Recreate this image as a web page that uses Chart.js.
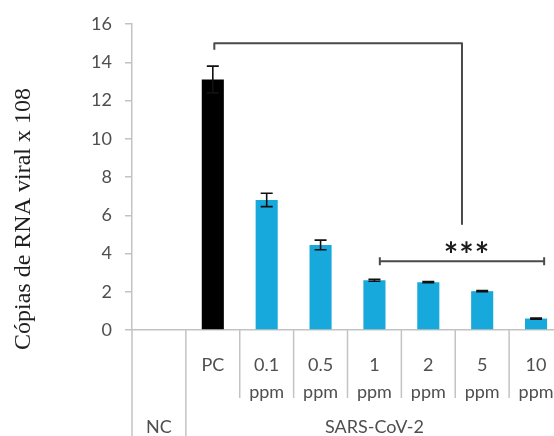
<!DOCTYPE html>
<html>
<head>
<meta charset="utf-8">
<script src="https://cdn.jsdelivr.net/npm/chart.js@4/dist/chart.umd.min.js"></script>
<style>
    html, body { margin: 0; padding: 0; background: #fff; overflow: hidden; }
    #wrap { width: 580px; height: 436px; }
</style>
</head>
<body>
<div id="wrap"><canvas id="rnaChart" width="580" height="436"></canvas></div>
<script>
// bar labels (first level) and the groups under them
const categories = ['', 'PC', ['0.1', 'ppm'], ['0.5', 'ppm'], ['1', 'ppm'], ['2', 'ppm'], ['5', 'ppm'], ['10', 'ppm']];
const groupLabels = ['NC', 'SARS-CoV-2'];
const groupStart = [0, 1];
const groupEnd = [0, 7];

// viral RNA copies (x 10^8) and standard errors
const copies = [null, 13.1, 6.8, 4.45, 2.6, 2.5, 2.03, 0.6];
const errors = [null, 0.7, 0.35, 0.25, 0.05, 0.03, 0.03, 0.03];

const yTicks = [0, 2, 4, 6, 8, 10, 12, 14, 16];

const CYAN = '#17a8dc';
const AXIS_GRAY = '#c3c3c3';
const TEXT_GRAY = '#4f4f4f';

const barColors = copies.map((v, i) => i === 1 ? '#000000' : CYAN);

// error bars on top of each column
const errorBars = {
    id: 'errorBars',
    afterDatasetsDraw(chart) {
        const ctx = chart.ctx;
        const x = chart.scales.x, y = chart.scales.y;
        ctx.save();
        ctx.strokeStyle = '#111';
        ctx.lineWidth = 1.6;
        copies.forEach((v, i) => {
            if (v == null || errors[i] == null) return;
            const cx = x.getPixelForValue(i);
            const top = y.getPixelForValue(v + errors[i]);
            const bot = y.getPixelForValue(v - errors[i]);
            ctx.beginPath();
            ctx.moveTo(cx, top); ctx.lineTo(cx, bot);
            ctx.moveTo(cx - 6, top); ctx.lineTo(cx + 6, top);
            ctx.moveTo(cx - 6, bot); ctx.lineTo(cx + 6, bot);
            ctx.stroke();
        });
        ctx.restore();
    }
};

// significance brackets and stars
const brackets = {
    id: 'brackets',
    afterDatasetsDraw(chart) {
        const ctx = chart.ctx;
        const x = chart.scales.x, y = chart.scales.y;
        const lowL = x.getPixelForValue(4.1), lowR = x.getPixelForValue(7.15);
        const lowY = y.getPixelForValue(3.6);
        const mid = (lowL + lowR) / 2;
        ctx.save();
        ctx.strokeStyle = '#4a4a4a';
        ctx.lineWidth = 2;
        ctx.lineJoin = 'round';
        // upper bracket from PC down to the middle of the lower one
        ctx.beginPath();
        ctx.moveTo(x.getPixelForValue(1) + 1.5, y.getPixelForValue(14.65));
        ctx.lineTo(x.getPixelForValue(1) + 1.5, y.getPixelForValue(15));
        ctx.lineTo(mid, y.getPixelForValue(15));
        ctx.lineTo(mid, y.getPixelForValue(5.5));
        ctx.stroke();
        // lower bracket 1 ppm .. 10 ppm
        ctx.beginPath();
        ctx.moveTo(lowL, lowY); ctx.lineTo(lowR, lowY);
        ctx.moveTo(lowL, lowY - 4); ctx.lineTo(lowL, lowY + 4);
        ctx.moveTo(lowR, lowY - 4); ctx.lineTo(lowR, lowY + 4);
        ctx.stroke();
        ctx.fillStyle = '#1a1a1a';
        ctx.font = 'bold 34px Lato';
        ctx.letterSpacing = '1px';
        ctx.textAlign = 'center';
        ctx.textBaseline = 'middle';
        ctx.fillText('***', mid + 5, y.getPixelForValue(3.85));
        ctx.restore();
    }
};

// category separators, group labels and the y title
const axisDecor = {
    id: 'axisDecor',
    afterDraw(chart) {
        const ctx = chart.ctx;
        const x = chart.scales.x;
        const area = chart.chartArea;
        const H = chart.height;
        ctx.save();
        ctx.strokeStyle = AXIS_GRAY;
        ctx.lineWidth = 1.5;
        for (let i = 0; i <= categories.length; i++) {
            const px = x.getPixelForValue(i - 0.5);
            const isGroupEdge = groupStart.includes(i) || i === categories.length;
            ctx.beginPath();
            ctx.moveTo(px, area.bottom);
            ctx.lineTo(px, isGroupEdge ? H : area.bottom + 68);
            ctx.stroke();
        }
        ctx.fillStyle = TEXT_GRAY;
        ctx.font = '18px Lato';
        ctx.textAlign = 'center';
        ctx.textBaseline = 'middle';
        groupLabels.forEach((g, k) => {
            const cx = (x.getPixelForValue(groupStart[k] - 0.5) + x.getPixelForValue(groupEnd[k] + 0.5)) / 2;
            ctx.fillText(g, cx, 427);
        });
        ctx.translate(24, 219);
        ctx.rotate(-Math.PI / 2);
        ctx.fillStyle = '#1e1e1e';
        ctx.font = '24px "Liberation Serif"';
        ctx.fillText('Cópias de RNA viral x 108', 0, 0);
        ctx.restore();
    }
};

new Chart(document.getElementById('rnaChart'), {
    type: 'bar',
    data: {
        labels: categories,
        datasets: [{
            data: copies,
            backgroundColor: barColors,
            borderWidth: 0,
            categoryPercentage: 1,
            barPercentage: 0.41
        }]
    },
    options: {
        responsive: false,
        animation: false,
        events: [],
        layout: { padding: { top: 24, right: 17, left: 0, bottom: 0 } },
        plugins: { legend: { display: false }, tooltip: { enabled: false } },
        scales: {
            x: {
                grid: { display: false },
                border: { display: true, color: AXIS_GRAY, width: 1.5 },
                ticks: {
                    color: TEXT_GRAY,
                    font: { family: 'Lato', size: 18, lineHeight: 1.5 },
                    padding: 14,
                    maxRotation: 0,
                    autoSkip: false
                },
                afterFit(scale) { scale.height = 106; }
            },
            y: {
                min: 0,
                max: 16,
                afterBuildTicks(scale) { scale.ticks = yTicks.map(v => ({ value: v })); },
                grid: { drawOnChartArea: false, drawTicks: true, tickLength: 7, color: AXIS_GRAY, lineWidth: 1.5 },
                border: { display: true, color: AXIS_GRAY, width: 1.5 },
                ticks: {
                    color: TEXT_GRAY,
                    font: { family: 'Lato', size: 18 },
                    padding: 13
                },
                afterFit(scale) { scale.width = 132; }
            }
        }
    },
    plugins: [errorBars, brackets, axisDecor]
});
</script>
</body>
</html>
